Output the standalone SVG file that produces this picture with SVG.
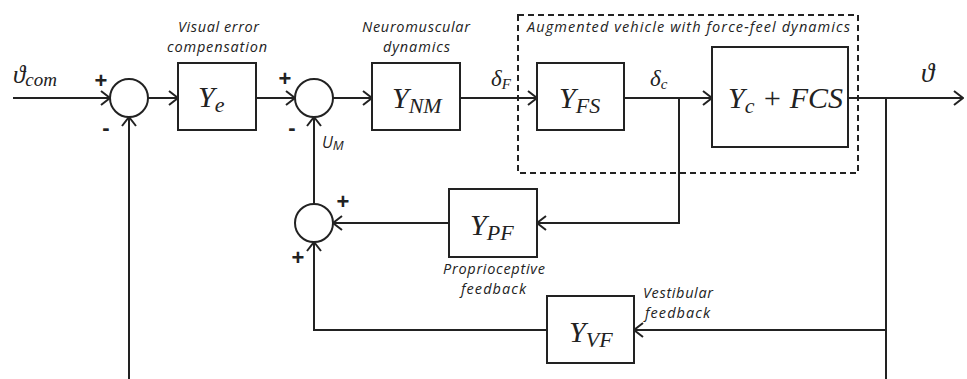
<svg xmlns="http://www.w3.org/2000/svg" width="967" height="379" viewBox="0 0 967 379">
<defs>
<style>
.ln{stroke:#222;stroke-width:2;fill:none}
.blk{fill:#fff;stroke:#222;stroke-width:2}
.sum{fill:#fff;stroke:#222;stroke-width:2}
.dash{fill:none;stroke:#222;stroke-width:2;stroke-dasharray:6 4}
.lbl{font-family:"Open Sans","Noto Sans",sans-serif;font-style:italic;font-size:14.5px;fill:#222}
.math{font-family:"Liberation Serif","DejaVu Serif",serif;font-style:italic;font-size:30px;fill:#222}
.sub{font-size:22px}
.sg{font-family:"Liberation Sans",sans-serif;font-weight:bold;font-size:22px;fill:#222;text-anchor:middle}
</style>
<marker id="arr" markerUnits="userSpaceOnUse" markerWidth="11" markerHeight="16" viewBox="0 0 11 16" refX="10" refY="8" orient="auto">
<path d="M1,1 L10,8 L1,15" fill="none" stroke="#222" stroke-width="2"/>
</marker>
</defs>
<rect width="967" height="379" fill="#fff"/>

<g id="connectors">
<path class="ln" d="M13,98 H110" marker-end="url(#arr)"/>
<path class="ln" d="M148,98 H178" marker-end="url(#arr)"/>
<path class="ln" d="M256,98 H295" marker-end="url(#arr)"/>
<path class="ln" d="M333,98 H372" marker-end="url(#arr)"/>
<path class="ln" d="M460,98 H537" marker-end="url(#arr)"/>
<path class="ln" d="M624,98 H712" marker-end="url(#arr)"/>
<path class="ln" d="M848,98 H963" marker-end="url(#arr)"/>
<path class="ln" d="M679,98 V223 H537" marker-end="url(#arr)"/>
<path class="ln" d="M449,223 H333" marker-end="url(#arr)"/>
<path class="ln" d="M314,204 V117" marker-end="url(#arr)"/>
<path class="ln" d="M886,98 V379"/>
<path class="ln" d="M886,330 H634" marker-end="url(#arr)"/>
<path class="ln" d="M547,330 H314 V242" marker-end="url(#arr)"/>
<path class="ln" d="M129,379 V117" marker-end="url(#arr)"/>
</g>

<g id="input-label">
<text class="math" x="13" y="83" style="font-size:25px">ϑ<tspan dy="3" style="font-size:19px">com</tspan></text>
</g>

<g id="sum1">
<circle class="sum" cx="129" cy="98" r="19"/>
<text class="sg" x="101" y="88">+</text>
<text class="sg" x="106" y="135">-</text>
</g>

<g id="Ye">
<rect class="blk" x="178" y="63" width="78" height="67"/>
<text class="math" x="198" y="107">Y<tspan class="sub" dy="5">e</tspan></text>
<text class="lbl" x="178" y="32" textLength="81" lengthAdjust="spacing">Visual error</text>
<text class="lbl" x="167" y="52" textLength="100" lengthAdjust="spacing">compensation</text>
</g>

<g id="sum2">
<circle class="sum" cx="314" cy="98" r="19"/>
<text class="sg" x="285" y="86">+</text>
<text class="sg" x="292" y="135">-</text>
<text class="lbl" x="322" y="148" style="font-size:16px">U<tspan dy="2" style="font-size:13px">M</tspan></text>
</g>

<g id="YNM">
<rect class="blk" x="372" y="63" width="88" height="67"/>
<text class="math" x="392" y="108">Y<tspan class="sub" dy="5">NM</tspan></text>
<text class="lbl" x="362" y="32" textLength="108" lengthAdjust="spacing">Neuromuscular</text>
<text class="lbl" x="383" y="52" textLength="67" lengthAdjust="spacing">dynamics</text>
</g>

<g id="delta-labels">
<text class="math" x="491" y="86" style="font-size:23px">δ<tspan dy="3" style="font-size:15px">F</tspan></text>
<text class="math" x="650" y="86" style="font-size:23px">δ<tspan dy="3" style="font-size:15px">c</tspan></text>
<text class="math" x="921" y="82" style="font-size:27px">ϑ</text>
</g>

<g id="augmented">
<rect class="dash" x="518" y="15" width="340" height="158"/>
<text class="lbl" x="527" y="32" textLength="323" lengthAdjust="spacing">Augmented vehicle with force-feel dynamics</text>
</g>

<g id="YFS">
<rect class="blk" x="537" y="63" width="87" height="67"/>
<text class="math" x="559" y="108">Y<tspan class="sub" dy="5">FS</tspan></text>
</g>

<g id="Yc">
<rect class="blk" x="712" y="47" width="136" height="100"/>
<text class="math" x="728" y="108">Y<tspan class="sub" dy="5">c</tspan><tspan dy="-5"> + FCS</tspan></text>
</g>

<g id="sum3">
<circle class="sum" cx="314" cy="223" r="19"/>
<text class="sg" x="343" y="209">+</text>
<text class="sg" x="298" y="265">+</text>
</g>

<g id="YPF">
<rect class="blk" x="449" y="189" width="88" height="68"/>
<text class="math" x="470" y="235">Y<tspan class="sub" dy="5">PF</tspan></text>
<text class="lbl" x="443" y="274" textLength="102" lengthAdjust="spacing">Proprioceptive</text>
<text class="lbl" x="461" y="294" textLength="65" lengthAdjust="spacing">feedback</text>
</g>

<g id="YVF">
<rect class="blk" x="547" y="296" width="87" height="67"/>
<text class="math" x="569" y="342">Y<tspan class="sub" dy="5">VF</tspan></text>
<text class="lbl" x="643" y="298" textLength="70" lengthAdjust="spacing">Vestibular</text>
<text class="lbl" x="645" y="318" textLength="65" lengthAdjust="spacing">feedback</text>
</g>
</svg>
